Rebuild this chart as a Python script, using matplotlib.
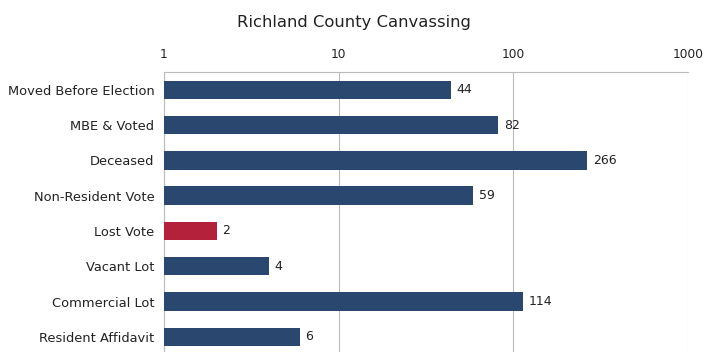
import numpy as np
import matplotlib.pyplot as plt

categories = ["Moved Before Election", "MBE & Voted", "Deceased", "Non-Resident Vote",
              "Lost Vote", "Vacant Lot", "Commercial Lot", "Resident Affidavit"]
counts = [44, 82, 266, 59, 2, 4, 114, 6]
bar_colors = ["#29476f", "#29476f", "#29476f", "#29476f",
              "#b3213a", "#29476f", "#29476f", "#29476f"]

fig = plt.figure(figsize=(7.07, 3.52), dpi=100)
ax = fig.add_axes([0.232, -0.007, 0.741, 0.802])

y = np.arange(len(categories))
widths = [v - 1 for v in counts]
ax.barh(y, widths, height=0.52, color=bar_colors, left=1, zorder=3)
ax.set_xscale("log")
ax.set_xlim(1, 1000)
ax.set_ylim(len(categories) - 0.5, -0.5)

for yi, v in zip(y, counts):
    ax.annotate(str(v), (v, yi), xytext=(4, 0), textcoords="offset points",
                va="center", ha="left", fontsize=9, color="#222222")

ax.set_yticks(y)
ax.set_yticklabels(categories, fontsize=9.4, color="#222222")
ax.tick_params(axis="y", length=0, pad=7)

ax.xaxis.tick_top()
ax.set_xticks([1, 10, 100, 1000])
ax.set_xticklabels(["1", "10", "100", "1000"], fontsize=8.8, color="#222222")
ax.xaxis.set_minor_locator(plt.NullLocator())
ax.tick_params(axis="x", length=0, pad=8)
ax.grid(axis="x", color="#bbbbbb", linewidth=0.8, zorder=0)

for s in ["right", "bottom"]:
    ax.spines[s].set_visible(False)
ax.spines["top"].set_color("#bbbbbb")
ax.spines["left"].set_color("#bbbbbb")
ax.spines["top"].set_linewidth(0.8)
ax.spines["left"].set_linewidth(0.8)

fig.text(0.5, 0.935, "Richland County Canvassing", ha="center", va="center", fontsize=11.8, color="#222222")

fig.savefig("out.png", dpi=100)
